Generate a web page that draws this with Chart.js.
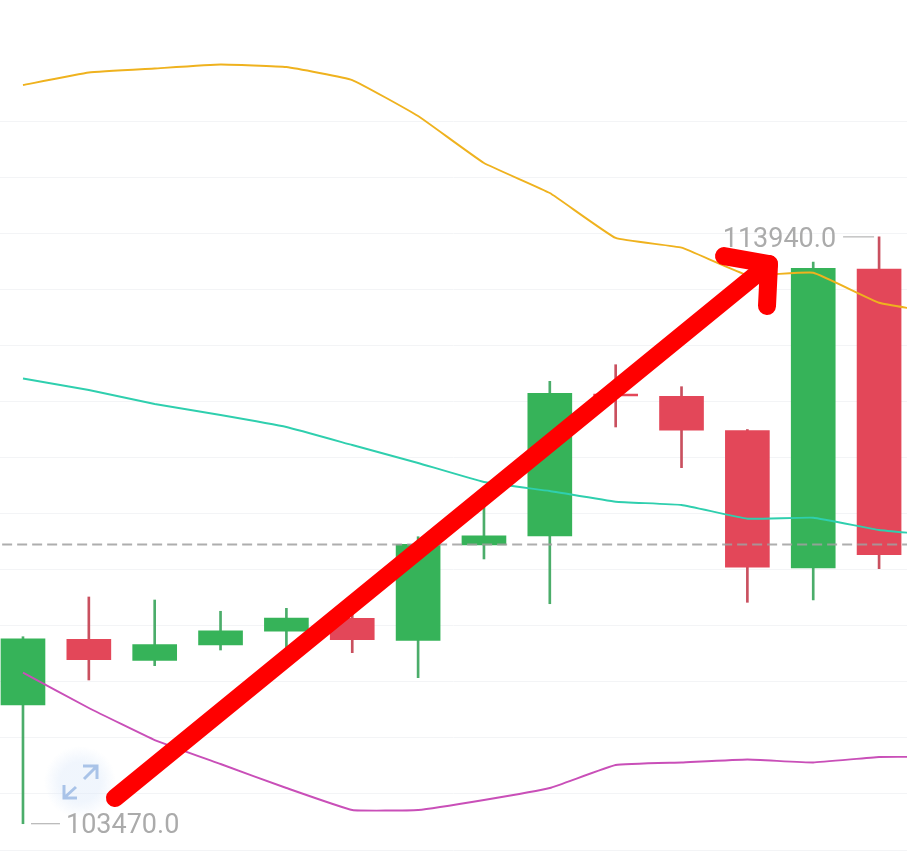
<!DOCTYPE html>
<html>
<head>
<meta charset="utf-8">
<title>Candles</title>
<script src="https://cdn.jsdelivr.net/npm/chart.js@4"></script>
<style>
    html, body { margin: 0; padding: 0; background: #fff; }
    canvas { display: block; }
</style>
</head>
<body>
<canvas id="klineChart" width="907" height="851"></canvas>
<script>
// candles, one entry per session
const opens  = [105590, 106760, 106385, 106658, 106903, 107135, 106742, 108442, 108603, 111136, 111095, 110482, 108032, 113367];
const closes = [106770, 106396, 106664, 106913, 107140, 106753, 108455, 108608, 111149, 111101, 110489, 108045, 113379, 108269];
const highs  = [106806, 107515, 107461, 107260, 107313, 107247, 108590, 109334, 111363, 111659, 111267, 110503, 113491, 113940];
const lows   = [103470, 106034, 106289, 106569, 106605, 106521, 106075, 108193, 107395, 110548, 109822, 107420, 107461, 108020];

// moving averages, they run one session past the right edge
const maYellow  = [116649, 116872, 116944, 117015, 116970, 116738, 116096, 115258, 114722, 113920, 113747, 113259, 113300, 112765, 112564];
const maTeal    = [111413, 111208, 110958, 110762, 110548, 110226, 109905, 109566, 109406, 109215, 109156, 108912, 108929, 108710, 108603];
const maMagenta = [106164, 105534, 104963, 104535, 104107, 103715, 103715, 103893, 104107, 104517, 104562, 104616, 104562, 104660, 104660];

const lastPrice = 108451;
const yTicks = [103000, 104000, 105000, 106000, 107000, 108000, 109000, 110000, 111000, 112000, 113000, 114000, 115000, 116000];

// hand drawn arrow on top of the chart, [session, price]
const arrowShaft = [[1.397, 103929], [11.33, 113456]];
const arrowHead  = [[10.645, 113598], [11.329, 113456], [11.298, 112706]];

const GREEN = '#36b359';
const RED = '#e34759';
const GREEN_WICK = '#4bad6a';
const RED_WICK = '#c9505f';

const toPoints = arr => arr.map((v, i) => ({ x: i, y: v }));
const toXY = arr => arr.map(p => ({ x: p[0], y: p[1] }));
const isUp = i => closes[i] >= opens[i];

function maDataset(values, color) {
    return {
        type: 'line',
        data: toPoints(values),
        borderColor: color,
        borderWidth: 1.9,
        pointRadius: 0,
        tension: 0.1,
        order: 2
    };
}

function arrowDataset(points) {
    return {
        type: 'line',
        data: toXY(points),
        borderColor: '#ff0000',
        borderWidth: 18,
        borderCapStyle: 'round',
        borderJoinStyle: 'round',
        pointRadius: 0,
        order: 0
    };
}

// price tags for the extremes + the little expand button
const overlayPlugin = {
    id: 'overlay',
    afterDatasetsDraw(chart) {
        const { ctx, scales: { x, y } } = chart;
        ctx.save();

        const maxIdx = highs.indexOf(Math.max(...highs));
        const minIdx = lows.indexOf(Math.min(...lows));
        ctx.font = '27px Roboto';
        ctx.fillStyle = '#ababab';
        ctx.strokeStyle = '#b5b5b5';
        ctx.lineWidth = 1.2;
        ctx.textBaseline = 'middle';

        const lowX = x.getPixelForValue(minIdx);
        const lowY = y.getPixelForValue(lows[minIdx]);
        ctx.beginPath();
        ctx.moveTo(lowX + 8, lowY);
        ctx.lineTo(lowX + 37, lowY);
        ctx.stroke();
        ctx.textAlign = 'left';
        ctx.fillText(lows[minIdx].toFixed(1), lowX + 43, lowY + 3);

        const highX = x.getPixelForValue(maxIdx);
        const highY = y.getPixelForValue(highs[maxIdx]);
        ctx.beginPath();
        ctx.moveTo(highX - 5, highY);
        ctx.lineTo(highX - 36, highY);
        ctx.stroke();
        ctx.textAlign = 'right';
        ctx.fillText(highs[maxIdx].toFixed(1), highX - 43, highY + 3);

        ctx.restore();
    },
    beforeDatasetsDraw(chart) {
        const { ctx } = chart;
        ctx.save();
        const glow = ctx.createRadialGradient(80, 782, 20, 80, 782, 36);
        glow.addColorStop(0, 'rgba(222, 234, 250, 0.45)');
        glow.addColorStop(1, 'rgba(222, 234, 250, 0)');
        ctx.fillStyle = glow;
        ctx.beginPath();
        ctx.arc(80, 782, 36, 0, Math.PI * 2);
        ctx.fill();

        ctx.strokeStyle = '#a9c3e8';
        ctx.lineWidth = 3;
        ctx.beginPath();
        ctx.moveTo(83, 766); ctx.lineTo(97, 766); ctx.lineTo(97, 779);
        ctx.moveTo(96, 767); ctx.lineTo(84, 779);
        ctx.moveTo(64, 785); ctx.lineTo(64, 798); ctx.lineTo(77, 798);
        ctx.moveTo(65, 797); ctx.lineTo(76, 787);
        ctx.stroke();
        ctx.restore();
    }
};

new Chart(document.getElementById('klineChart').getContext('2d'), {
    data: {
        datasets: [
            arrowDataset(arrowShaft),
            arrowDataset(arrowHead),
            {
                type: 'line',
                data: [{ x: -1, y: lastPrice }, { x: 14, y: lastPrice }],
                borderColor: 'rgba(160, 160, 160, 0.85)',
                borderWidth: 2,
                borderDash: [10, 5],
                pointRadius: 0,
                order: 1
            },
            maDataset(maYellow, '#efb21e'),
            maDataset(maTeal, '#2fcfae'),
            maDataset(maMagenta, '#c94fb8'),
            {
                type: 'bar',
                data: opens.map((o, i) => ({ x: i, y: [o, closes[i]] })),
                backgroundColor: opens.map((o, i) => isUp(i) ? GREEN : RED),
                barThickness: 44,
                grouped: false,
                order: 3
            },
            {
                type: 'bar',
                data: lows.map((l, i) => ({ x: i, y: [l, highs[i]] })),
                backgroundColor: lows.map((l, i) => isUp(i) ? GREEN_WICK : RED_WICK),
                barThickness: 2,
                grouped: false,
                order: 4
            }
        ]
    },
    options: {
        responsive: false,
        animation: false,
        layout: { padding: 0 },
        plugins: {
            legend: { display: false },
            tooltip: { enabled: false }
        },
        scales: {
            x: {
                type: 'linear',
                display: false,
                offset: false,
                min: -0.349,
                max: 13.424
            },
            y: {
                type: 'linear',
                min: 102983,
                max: 118166,
                afterBuildTicks: scale => {
                    scale.ticks = yTicks.map(v => ({ value: v }));
                },
                border: { display: false },
                grid: { color: '#f3f4f6', lineWidth: 1, drawTicks: false },
                ticks: { display: false }
            }
        }
    },
    plugins: [overlayPlugin]
});
</script>
</body>
</html>
